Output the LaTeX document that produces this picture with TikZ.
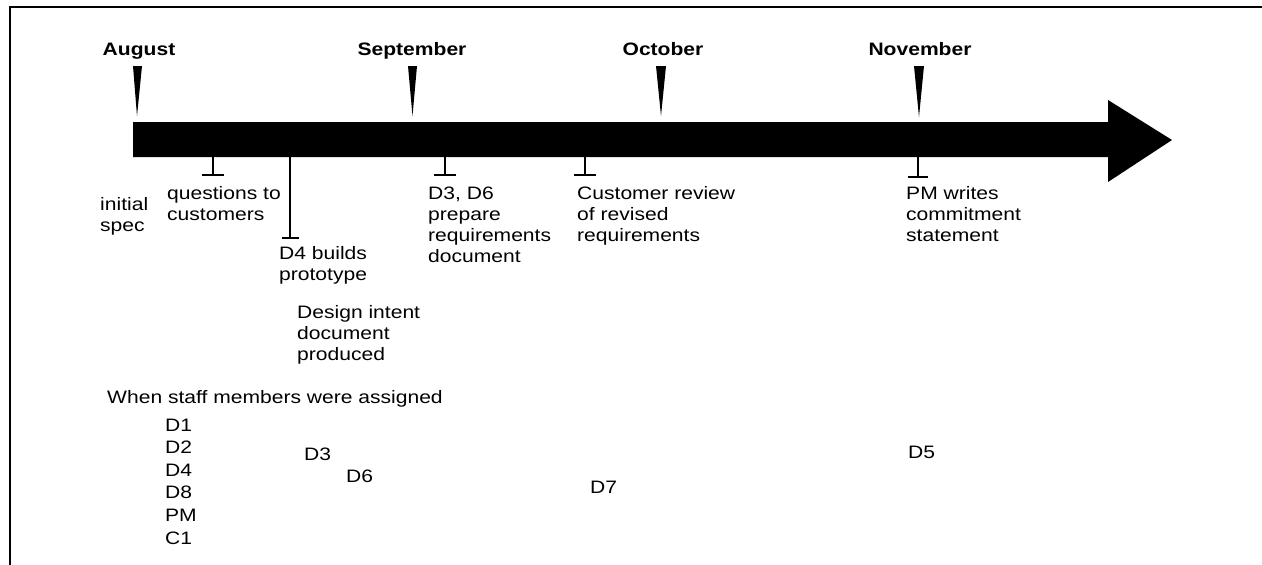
\documentclass[tikz,border=0pt]{standalone}
\usepackage{fontspec}
\setmainfont[FakeStretch=1.17]{Liberation Sans}
\begin{document}
\begin{tikzpicture}[x=1pt,y=-1pt,
  lbl/.style={inner sep=0pt, anchor=base west, align=left, font=\fontsize{18}{21}\selectfont},
  staff/.style={inner sep=0pt, anchor=base west, align=left, font=\fontsize{18}{22.6}\selectfont},
  month/.style={inner sep=0pt, anchor=base, font=\fontsize{18}{21}\selectfont\bfseries},
  tickline/.style={line width=1.2pt},
  wedge/.style={fill=black},
  frameline/.style={line width=2pt}
]
\useasboundingbox (0,0) rectangle (1262,565);
% frame
\draw[frameline] (1262,7) -- (10,7) -- (10,565);
% time arrow
\fill (133,122) -- (1108,122) -- (1108,100) -- (1172,140) -- (1108,182) -- (1108,157) -- (133,157) -- cycle;
% months
\node[month] (aug) at (139,55) {August};
\node[month] (sep) at (412,55) {September};
\node[month] (oct) at (663,55) {October};
\node[month] (nov) at (920,55) {November};
\fill[wedge] (133,66) -- (142,66) -- (137,116) -- cycle;
\fill[wedge] (408,66) -- (417,66) -- (412.5,116) -- cycle;
\fill[wedge] (656,66) -- (666,66) -- (661,116) -- cycle;
\fill[wedge] (914,66) -- (924,66) -- (919,117) -- cycle;
% tick coordinates
\coordinate (t1a) at (213,157); \coordinate (t1b) at (213,175);
\coordinate (t2a) at (290,157); \coordinate (t2b) at (290,238);
\coordinate (t3a) at (445,157); \coordinate (t3b) at (445,175);
\coordinate (t4a) at (585,157); \coordinate (t4b) at (585,175);
\coordinate (t5a) at (918,157); \coordinate (t5b) at (918,177);
\foreach \t/\w in {t1/11,t2/8.5,t3/11,t4/11,t5/10}{
  \draw[tickline] (\t a) -- (\t b);
  \draw[tickline] ([xshift=-\w pt]\t b) -- ([xshift=\w pt]\t b);
}
% event labels (anchor is at the baseline of the last line)
\node[lbl] (init) at (100,231) {initial\\spec};
\node[lbl] (quest) at (167,220) {questions to\\customers};
\node[lbl] (proto) at (279,280) {D4 builds\\prototype};
\node[lbl] (reqdoc) at (428,262) {D3, D6\\prepare\\requirements\\document};
\node[lbl] (review) at (577,241) {Customer review\\of revised\\requirements};
\node[lbl] (commit) at (906,241) {PM writes\\commitment\\statement};
\node[lbl] (design) at (297,360) {Design intent\\document\\produced};
% staff
\node[lbl] (when) at (107,403) {When staff members were assigned};
\node[staff] (first) at (165,544) {D1\\D2\\D4\\D8\\PM\\C1};
\node[lbl] (dthree) at (304,460) {D3};
\node[lbl] (dsix) at (346,482) {D6};
\node[lbl] (dseven) at (590,493) {D7};
\node[lbl] (dfive) at (908,458) {D5};
\end{tikzpicture}
\end{document}
